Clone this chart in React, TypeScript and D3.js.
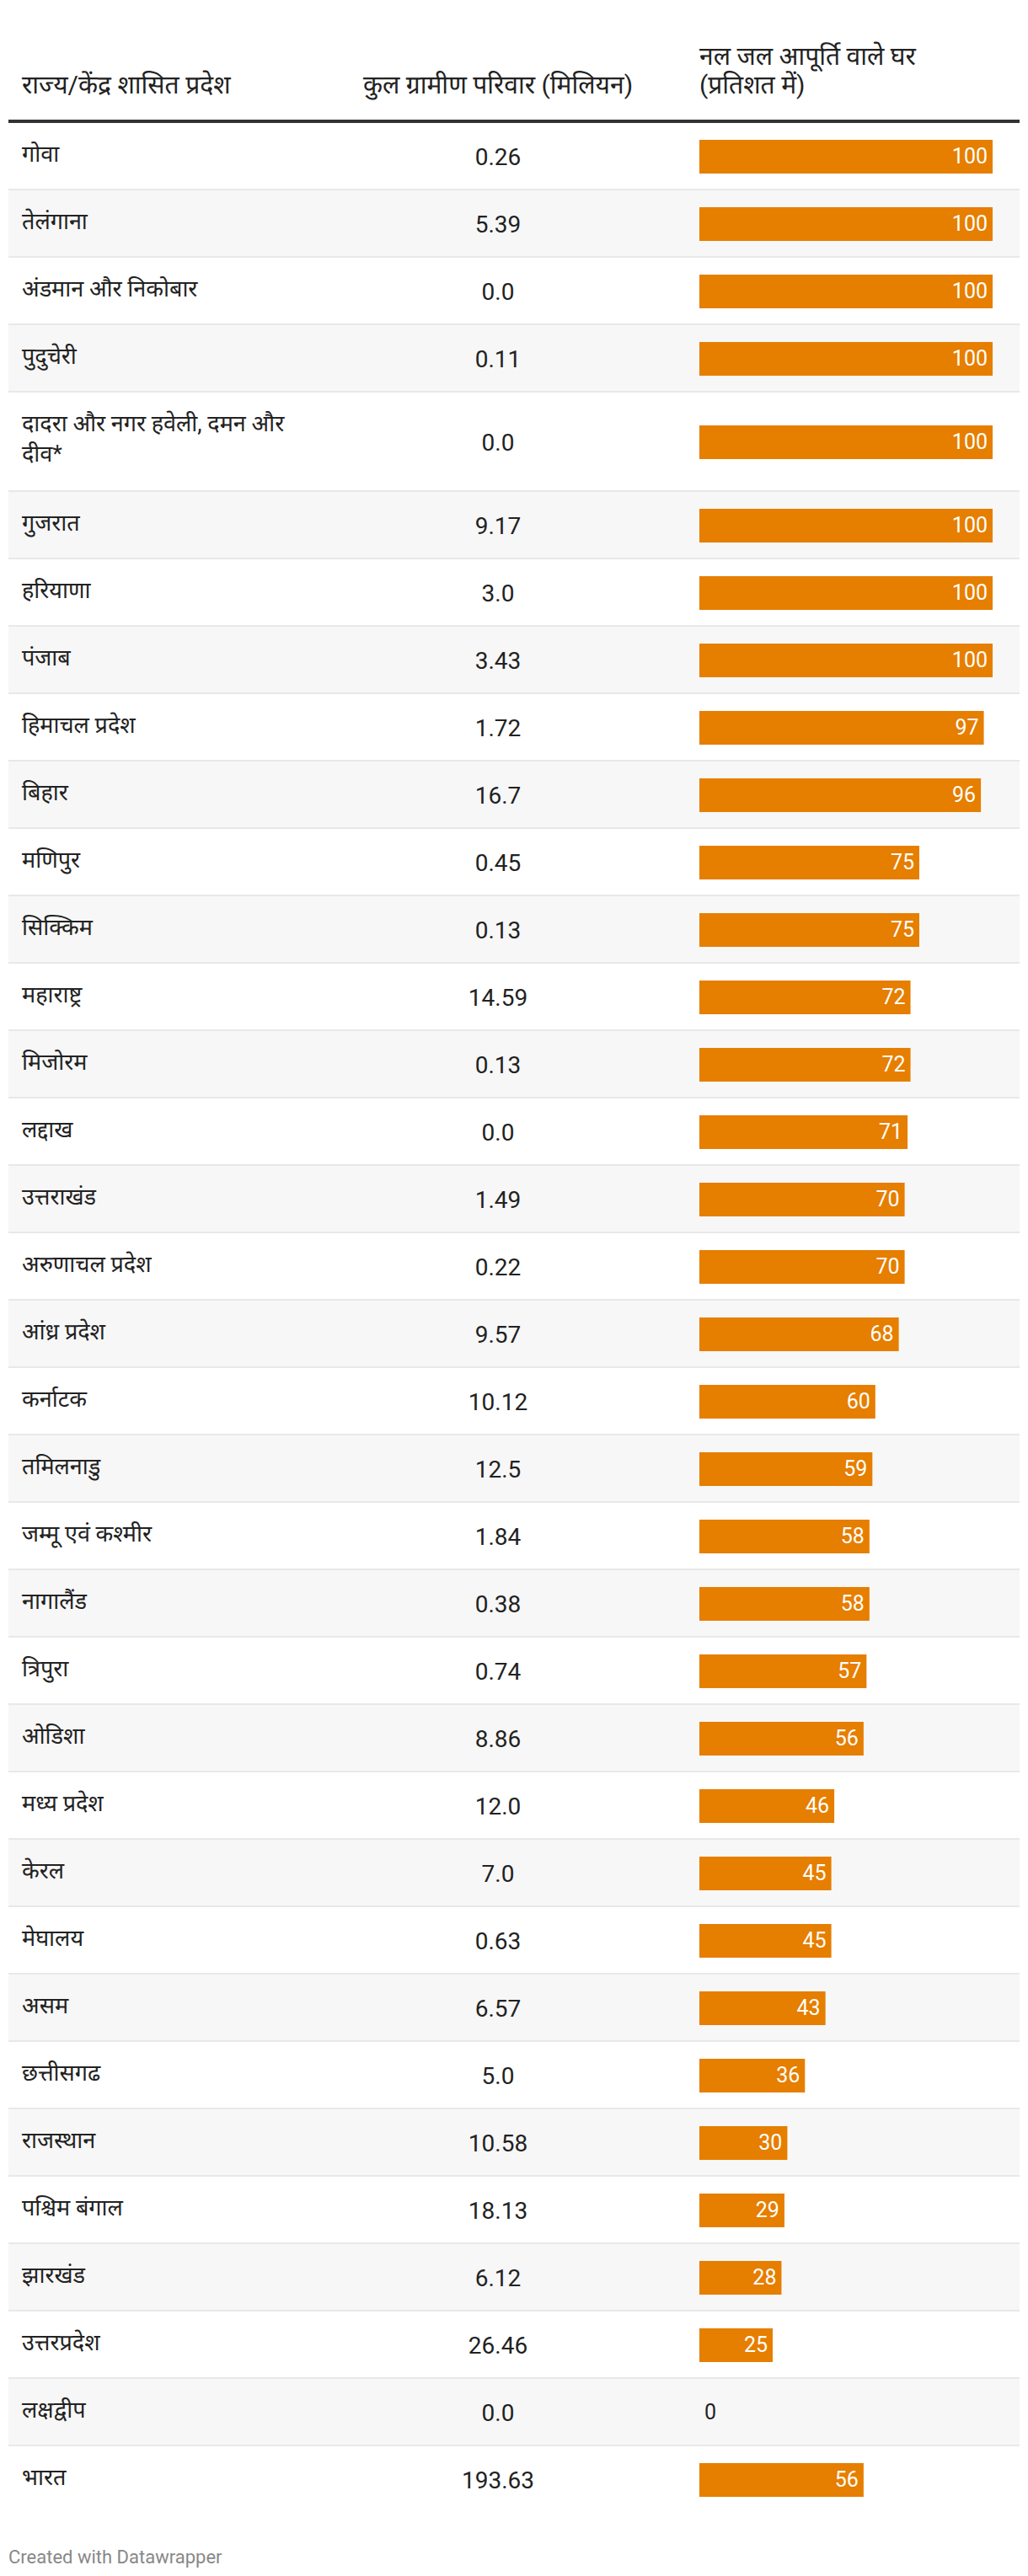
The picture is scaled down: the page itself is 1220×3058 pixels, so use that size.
import React, { useEffect, useRef } from 'react';
import * as d3 from 'd3';

// States / UTs, rural households (million), % homes with tap water
const states = [
    "गोवा", "तेलंगाना", "अंडमान और निकोबार", "पुदुचेरी", "दादरा और नगर हवेली, दमन और|दीव*",
    "गुजरात", "हरियाणा", "पंजाब", "हिमाचल प्रदेश", "बिहार", "मणिपुर", "सिक्किम",
    "महाराष्ट्र", "मिजोरम", "लद्दाख", "उत्तराखंड", "अरुणाचल प्रदेश", "आंध्र प्रदेश",
    "कर्नाटक", "तमिलनाडु", "जम्मू एवं कश्मीर", "नागालैंड", "त्रिपुरा", "ओडिशा",
    "मध्य प्रदेश", "केरल", "मेघालय", "असम", "छत्तीसगढ", "राजस्थान", "पश्चिम बंगाल",
    "झारखंड", "उत्तरप्रदेश", "लक्षद्वीप", "भारत"
];
const households = [
    "0.26", "5.39", "0.0", "0.11", "0.0", "9.17", "3.0", "3.43", "1.72", "16.7", "0.45", "0.13",
    "14.59", "0.13", "0.0", "1.49", "0.22", "9.57", "10.12", "12.5", "1.84", "0.38", "0.74", "8.86",
    "12.0", "7.0", "0.63", "6.57", "5.0", "10.58", "18.13", "6.12", "26.46", "0.0", "193.63"
];
const tapWater = [
    100, 100, 100, 100, 100, 100, 100, 100, 97, 96, 75, 75, 72, 72, 71, 70, 70, 68,
    60, 59, 58, 58, 57, 56, 46, 45, 45, 43, 36, 30, 29, 28, 25, 0, 56
];
const headers = ["राज्य/केंद्र शासित प्रदेश", "कुल ग्रामीण परिवार (मिलियन)", "नल जल आपूर्ति वाले घर|(प्रतिशत में)"];

const W = 1220;
const H = 3058;
const FONT = "Roboto, 'Noto Sans Devanagari', 'Noto Sans', sans-serif";

export default function App() {
    const ref = useRef<SVGSVGElement>(null);

    useEffect(() => {
        const svg = d3.select(ref.current);
        svg.selectAll("*").remove();

        let left = 10, right = 1210;
        let headLine = 142;
        let tableTop = 146;
        let rowH = 80, extraH = 38;
        let numX = 591, barX = 830;

        let x = d3.scaleLinear().domain([0, 100]).range([0, 348]);

        // header
        headers.forEach((h, i) => {
            let lines = h.split("|");
            let t = svg.append("text")
                .attr("font-family", FONT)
                .attr("font-size", 30)
                .attr("fill", "#222")
                .attr("text-anchor", i == 1 ? "middle" : "start")
                .attr("x", i == 0 ? 26 : i == 1 ? numX : barX);
            lines.forEach((l, j) => {
                t.append("tspan")
                    .attr("x", i == 0 ? 26 : i == 1 ? numX : barX)
                    .attr("y", 111 - (lines.length - 1 - j) * 34)
                    .text(l);
            });
        });
        svg.append("rect")
            .attr("x", left).attr("y", headLine)
            .attr("width", right - left).attr("height", 4)
            .attr("fill", "#333");

        // rows
        let y = tableTop;
        states.forEach((name, i) => {
            let lines = name.split("|");
            let h = rowH + (lines.length - 1) * extraH;
            let off = (lines.length - 1) * extraH / 2;
            let g = svg.append("g").attr("transform", `translate(0,${y})`);

            g.append("rect")
                .attr("x", left).attr("y", 0)
                .attr("width", right - left).attr("height", h - 2)
                .attr("fill", i % 2 == 1 ? "#f7f7f7" : "#ffffff");
            if (i > 0) {
                g.append("rect")
                    .attr("x", left).attr("y", -2)
                    .attr("width", right - left).attr("height", 2)
                    .attr("fill", "#e8e8e8");
            }

            let t = g.append("text")
                .attr("font-family", FONT)
                .attr("font-size", 27)
                .attr("fill", "#222");
            lines.forEach((l, j) => {
                t.append("tspan").attr("x", 26).attr("y", 46 + j * 36).text(l);
            });

            g.append("text")
                .attr("x", numX).attr("y", 50 + off)
                .attr("text-anchor", "middle")
                .attr("font-family", FONT)
                .attr("font-size", 28)
                .attr("fill", "#222")
                .text(households[i]);

            let v = tapWater[i];
            g.append("rect")
                .attr("x", barX).attr("y", 20 + off)
                .attr("width", x(v)).attr("height", 40)
                .attr("fill", "#e67e00");
            if (v > 5) {
                g.append("text")
                    .attr("x", barX + x(v) - 6).attr("y", 48 + off)
                    .attr("text-anchor", "end")
                    .attr("font-family", FONT)
                    .attr("font-size", 25)
                    .attr("fill", "#ffffff")
                    .text(v);
            } else {
                g.append("text")
                    .attr("x", barX + x(v) + 6).attr("y", 48 + off)
                    .attr("font-family", FONT)
                    .attr("font-size", 25)
                    .attr("fill", "#222")
                    .text(v);
            }
            y += h;
        });

        svg.append("text")
            .attr("x", left).attr("y", 3043)
            .attr("font-family", FONT)
            .attr("font-size", 22)
            .attr("fill", "#888")
            .text("Created with Datawrapper");
    }, []);

    return (
        <svg ref={ref} width={W} height={H}
            style={{ position: "absolute", left: 0, top: 0, background: "#fff", display: "block" }} />
    );
}
